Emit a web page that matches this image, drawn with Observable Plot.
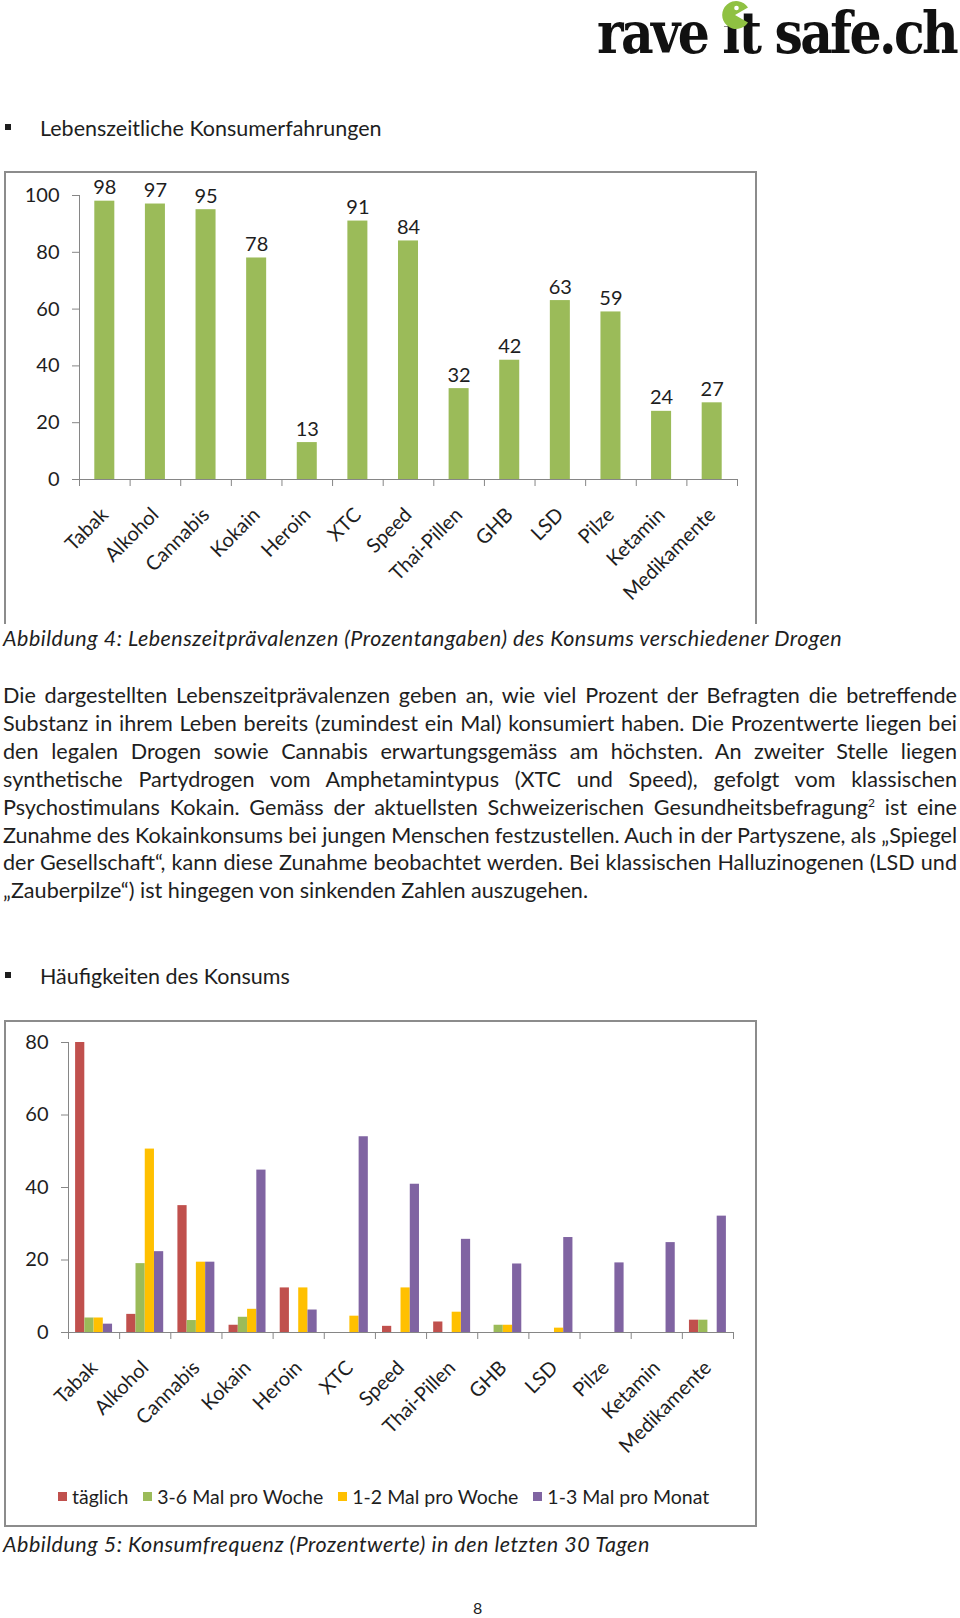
<!DOCTYPE html>
<html>
<head>
<meta charset="utf-8">
<script src="https://cdn.jsdelivr.net/npm/d3@7"></script>
<script src="https://cdn.jsdelivr.net/npm/@observablehq/plot@0.6"></script>
<style>
  body { margin: 0; background: #fff; font-family: Lato, "Noto Sans", sans-serif; color: #1e1e1e; }
  #page { position: relative; width: 960px; height: 1618px; overflow: hidden; background: #fff; }
  .abs { position: absolute; }
  .logo { left: 597px; top: 4px; font-family: "DejaVu Serif", serif; font-weight: bold; font-size: 58px; line-height: 58px;
          letter-spacing: -3px; color: #111; transform: scaleX(0.87); transform-origin: left top; white-space: nowrap; }
  .logo .idot { display: inline-block; clip-path: inset(38% 0 0 0); }
  .bullet { font-size: 21.5px; line-height: 28px; white-space: nowrap; }
  .bullet .sq { position: absolute; left: 0; top: 10px; width: 6px; height: 6px; background: #1e1e1e; }
  .bullet .t { position: absolute; left: 35px; top: 0; }
  .caption { font-size: 21.5px; font-style: italic; line-height: 28px; white-space: nowrap; letter-spacing: 0.5px; }
  .para { left: 3px; width: 954px; font-size: 21.6px; line-height: 27.9px; }
  .para .jl { text-align: justify; text-align-last: justify; word-spacing: -4px; }
  .para .last { text-align: left; }
  .frame { border: 2px solid #8c8c8c; box-sizing: border-box; pointer-events: none; }
  .lg-swatches { font-family: Lato, sans-serif !important; font-size: 19.5px !important; color: #1e1e1e; margin: 0 !important; }
  .lg-swatch { margin-right: 15px !important; }
  .lg-swatch > svg { margin-right: 5px !important; }
  sup { font-size: 12px; line-height: 0; }
</style>
</head>
<body>
<div id="page">
  <div class="abs logo">rave <span class="idot">i</span>t safe.ch</div>
  <svg class="abs" style="left:720px;top:0px" width="30" height="30" viewBox="0 0 30 30">
    <path d="M15 15 L28 7.5 A14 14 0 1 0 28 22.5 Z" fill="#8fc142"/>
    <circle cx="16.5" cy="8" r="2.3" fill="#fff"/>
  </svg>

  <div class="abs bullet" style="left:5px;top:114px;"><span class="sq"></span><span class="t">Lebenszeitliche Konsumerfahrungen</span></div>

  <div class="abs" id="chart1" style="left:4px;top:171px;width:753px;height:451px;"></div>
  <div class="abs frame" style="left:4px;top:171px;width:753px;height:460px;border-bottom:none;"></div>

  <div class="abs caption" style="left:3px;top:624px;background:#fff;padding-right:4px;">Abbildung 4: Lebenszeitprävalenzen (Prozentangaben) des Konsums verschiedener Drogen</div>

  <div class="abs para" style="top:682px;">
    <div class="jl">Die dargestellten Lebenszeitprävalenzen geben an, wie viel Prozent der Befragten die betreffende</div>
    <div class="jl">Substanz in ihrem Leben bereits (zumindest ein Mal) konsumiert haben. Die Prozentwerte liegen bei</div>
    <div class="jl">den legalen Drogen sowie Cannabis erwartungsgemäss am höchsten. An zweiter Stelle liegen</div>
    <div class="jl">synthetische Partydrogen vom Amphetamintypus (XTC und Speed), gefolgt vom klassischen</div>
    <div class="jl">Psychostimulans Kokain. Gemäss der aktuellsten Schweizerischen Gesundheitsbefragung<sup>2</sup> ist eine</div>
    <div class="jl">Zunahme des Kokainkonsums bei jungen Menschen festzustellen. Auch in der Partyszene, als „Spiegel</div>
    <div class="jl">der Gesellschaft“, kann diese Zunahme beobachtet werden. Bei klassischen Halluzinogenen (LSD und</div>
    <div class="last">„Zauberpilze“) ist hingegen von sinkenden Zahlen auszugehen.</div>
  </div>

  <div class="abs bullet" style="left:5px;top:962px;"><span class="sq"></span><span class="t">Häufigkeiten des Konsums</span></div>

  <div class="abs" id="chart2" style="left:4px;top:1020px;width:753px;height:460px;"></div>
  <div class="abs" id="legend2" style="left:58px;top:1480px;"></div>
  <div class="abs frame" style="left:4px;top:1020px;width:753px;height:507px;"></div>

  <div class="abs caption" style="left:3px;top:1530px;">Abbildung 5: Konsumfrequenz (Prozentwerte) in den letzten 30 Tagen</div>

  <div class="abs" style="left:473px;top:1598px;font-size:16px;">8</div>
</div>

<script>
// ---------- Data ----------
const categories = ["Tabak", "Alkohol", "Cannabis", "Kokain", "Heroin", "XTC", "Speed",
                    "Thai-Pillen", "GHB", "LSD", "Pilze", "Ketamin", "Medikamente"];

// Abbildung 4: Lebenszeitprävalenz (%)
const lifetime = [98, 97, 95, 78, 13, 91, 84, 32, 42, 63, 59, 24, 27];
const yTicksTop = [0, 20, 40, 60, 80, 100];

// Abbildung 5: Konsumfrequenz in den letzten 30 Tagen (%)
const seriesNames = ["täglich", "3-6 Mal pro Woche", "1-2 Mal pro Woche", "1-3 Mal pro Monat"];
const seriesColors = ["#c0504d", "#9bbb59", "#ffc000", "#8064a2"];
const daily      = [80, 5, 35, 2, 12.3, 0, 1.7, 2.9, 0, 0, 0, 0, 3.4];
const weekly36   = [4, 19, 3.3, 4.2, 0, 0, 0, 0, 2, 0, 0, 0, 3.4];
const weekly12   = [4, 50.6, 19.4, 6.4, 12.3, 4.5, 12.3, 5.6, 2, 1.2, 0, 0, 0];
const monthly13  = [2.3, 22.3, 19.4, 44.8, 6.2, 54, 40.9, 25.7, 18.9, 26.2, 19.2, 24.8, 32.1];
const yTicksBottom = [0, 20, 40, 60, 80];

// ---------- Style constants ----------
const axisGray = "#868686";
const textColor = "#1e1e1e";
const font = "Lato, sans-serif";

// ---------- Chart 1 ----------
const chart1 = Plot.plot({
  width: 753, height: 451,
  marginLeft: 75, marginRight: 20, marginTop: 24, marginBottom: 143,
  style: {fontFamily: font, fontSize: "19px", color: textColor, background: "transparent", overflow: "visible"},
  x: {type: "linear", domain: [0, categories.length]},
  y: {domain: [0, 100]},
  marks: [
    Plot.rectY(lifetime, {x1: (d, i) => i, x2: (d, i) => i + 1, y1: 0, y2: d => d, fill: "#9bbb59", insetLeft: 15.3, insetRight: 15.3}),
    Plot.ruleX([0], {stroke: axisGray}),
    Plot.ruleY([0], {stroke: axisGray}),
    Plot.axisY({ticks: yTicksTop, tickSize: 7, tickPadding: 13, stroke: axisGray, fill: textColor, fontSize: 20}),
    Plot.axisX({ticks: d3.range(categories.length + 1), tickSize: 7, tickFormat: () => "", stroke: axisGray}),
    Plot.text(lifetime, {x: (d, i) => i + 0.5, y: d => d, text: d => String(d), dy: -7, lineAnchor: "bottom", fontSize: 20, fill: textColor}),
    Plot.text(categories, {x: (d, i) => i + 0.5, y: 0, text: d => d, rotate: -45, textAnchor: "end", lineAnchor: "middle",
                           dx: 0, dy: 32, fontSize: 20, fill: textColor})
  ]
});
document.getElementById("chart1").appendChild(chart1);

// ---------- Chart 2 ----------
const seriesValues = [daily, weekly36, weekly12, monthly13];
const barW = 9.25;
const side = 7.1;
const chart2 = Plot.plot({
  width: 753, height: 460,
  marginLeft: 64, marginRight: 24, marginTop: 22, marginBottom: 148,
  style: {fontFamily: font, fontSize: "19px", color: textColor, background: "transparent", overflow: "visible"},
  x: {type: "linear", domain: [0, categories.length]},
  y: {domain: [0, 80]},
  color: {domain: seriesNames, range: seriesColors},
  marks: [
    ...seriesValues.map((vals, j) => Plot.rectY(vals, {
      x1: (d, i) => i, x2: (d, i) => i + 1, y1: 0, y2: d => d, fill: () => seriesNames[j],
      insetLeft: side + j * barW, insetRight: side + (seriesNames.length - 1 - j) * barW
    })),
    Plot.ruleX([0], {stroke: axisGray}),
    Plot.ruleY([0], {stroke: axisGray}),
    Plot.axisY({ticks: yTicksBottom, tickSize: 7, tickPadding: 13, stroke: axisGray, fill: textColor, fontSize: 20}),
    Plot.axisX({ticks: d3.range(categories.length + 1), tickSize: 7, tickFormat: () => "", stroke: axisGray}),
    Plot.text(categories, {x: (d, i) => i + 0.5, y: 0, text: d => d, rotate: -45, textAnchor: "end", lineAnchor: "middle",
                           dx: 0, dy: 32, fontSize: 20, fill: textColor})
  ]
});
document.getElementById("chart2").appendChild(chart2);

const legend = Plot.legend({color: {domain: seriesNames, range: seriesColors}, swatchSize: 9, className: "lg"});
document.getElementById("legend2").appendChild(legend);
</script>
</body>
</html>
